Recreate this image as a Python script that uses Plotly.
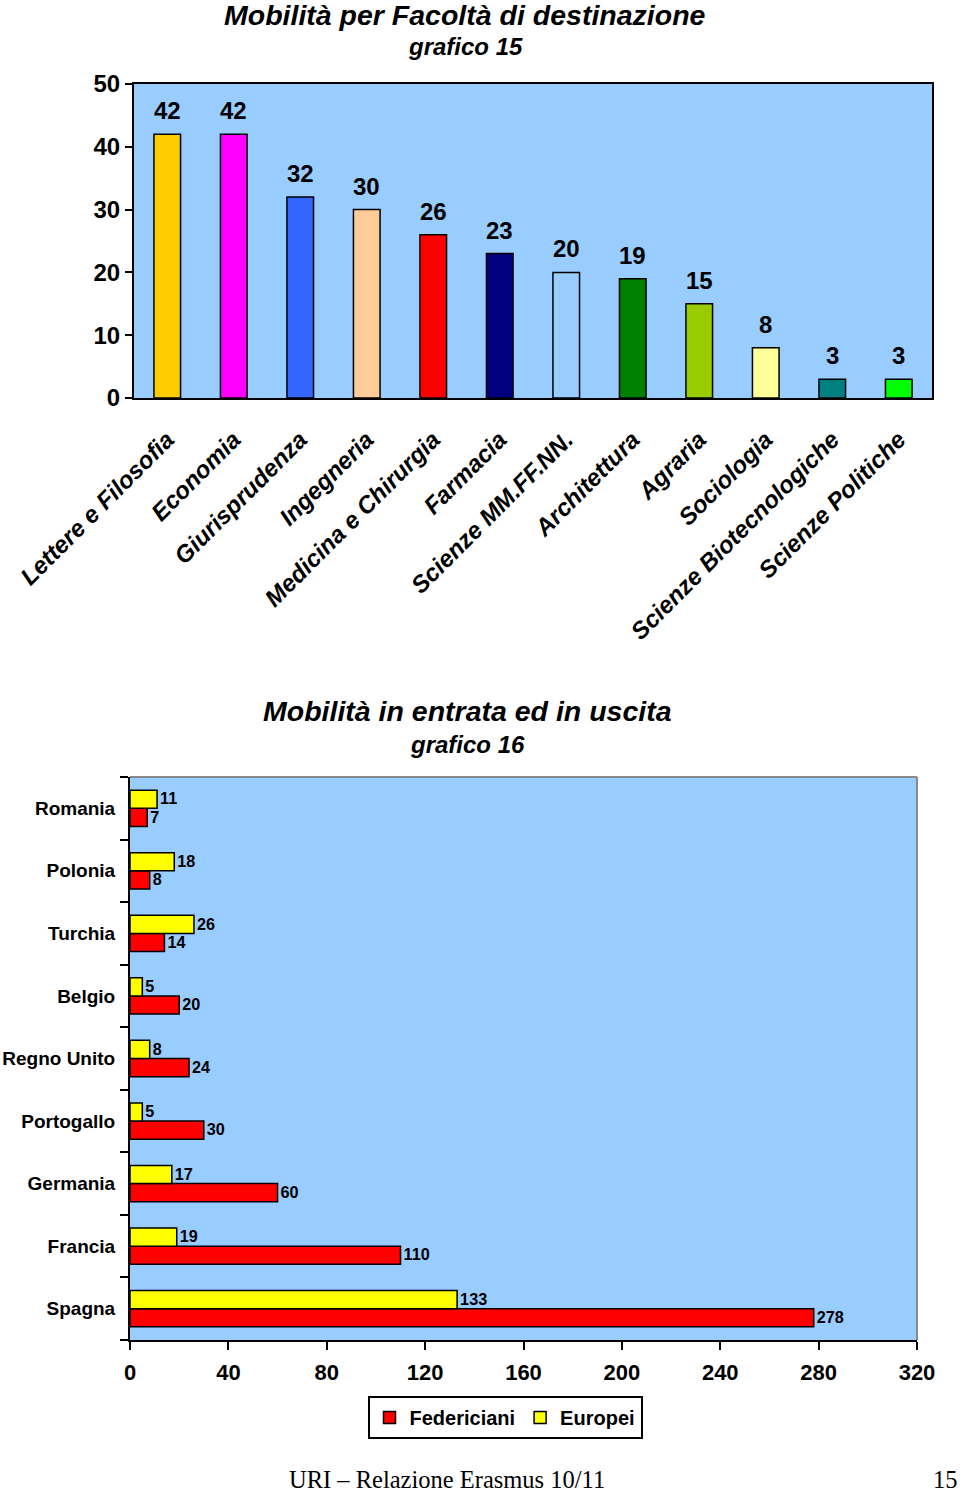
import plotly.graph_objects as go

# ---- data: grafico 15 ----
facolta = ["Lettere e Filosofia", "Economia", "Giurisprudenza", "Ingegneria",
           "Medicina e Chirurgia", "Farmacia", "Scienze MM.FF.NN.", "Architettura",
           "Agraria", "Sociologia", "Scienze Biotecnologiche", "Scienze Politiche"]
mobilita = [42, 42, 32, 30, 26, 23, 20, 19, 15, 8, 3, 3]
colori_facolta = ["#FFCC00", "#FF00FF", "#3366FF", "#FFCC99", "#FF0000", "#000080",
                  "#99CCFF", "#008000", "#99CC00", "#FFFF99", "#008080", "#00FF00"]

# ---- data: grafico 16 ----
paesi = ["Romania", "Polonia", "Turchia", "Belgio", "Regno Unito",
         "Portogallo", "Germania", "Francia", "Spagna"]
europei = [11, 18, 26, 5, 8, 5, 17, 19, 133]
federiciani = [7, 8, 14, 20, 24, 30, 60, 110, 278]

W, H = 960, 1493
FONT = "Liberation Sans, Arial, sans-serif"
SERIF = "Liberation Serif, Times New Roman, serif"
BG = "#99CCFF"

def px(x):
    return x / W

def py(y):
    return 1 - y / H

fig = go.Figure()

# top chart
fig.add_trace(go.Bar(
    x=facolta, y=mobilita, marker=dict(color=colori_facolta, line=dict(color="black", width=1.5)),
    width=0.4, xaxis="x", yaxis="y", showlegend=False, hoverinfo="x+y"))

for f, v in zip(facolta, mobilita):
    fig.add_annotation(x=f, y=v, xref="x", yref="y", text=str(v), showarrow=False,
                       yanchor="bottom", yshift=8,
                       font=dict(family=FONT, size=24, color="black", weight="bold"))

# bottom chart
fig.add_trace(go.Bar(
    y=paesi, x=federiciani, orientation="h", name="Federiciani",
    marker=dict(color="#FF0000", line=dict(color="black", width=1.5)),
    text=[str(v) for v in federiciani], textposition="outside", cliponaxis=False,
    textfont=dict(family=FONT, size=17, color="black", weight="bold"),
    xaxis="x2", yaxis="y2"))
fig.add_trace(go.Bar(
    y=paesi, x=europei, orientation="h", name="Europei",
    marker=dict(color="#FFFF00", line=dict(color="black", width=1.5)),
    text=[str(v) for v in europei], textposition="outside", cliponaxis=False,
    textfont=dict(family=FONT, size=17, color="black", weight="bold"),
    xaxis="x2", yaxis="y2"))

fig.update_layout(
    width=W, height=H, autosize=False,
    margin=dict(l=0, r=0, t=0, b=0, autoexpand=False),
    paper_bgcolor="white", plot_bgcolor=BG,
    barmode="group", bargap=0.42, bargroupgap=0,
    font=dict(family=FONT, color="black"),
    xaxis=dict(domain=[px(134), px(932)], anchor="y", showgrid=False,
               showline=True, linecolor="black", linewidth=2, mirror=True,
               ticks="", tickangle=-45, automargin=False, ticklabelstandoff=16,
               tickfont=dict(family=FONT, size=24, style="italic", weight="bold")),
    yaxis=dict(domain=[py(398), py(84)], anchor="x", range=[0, 50], dtick=10,
               showgrid=False, zeroline=False, automargin=False,
               showline=True, linecolor="black", linewidth=2, mirror=True,
               ticks="outside", ticklen=7, tickcolor="black", tickwidth=2,
               tickfont=dict(family=FONT, size=24, weight="bold")),
    xaxis2=dict(domain=[px(130), px(917)], anchor="y2", range=[0, 320], dtick=40,
                showgrid=False, zeroline=False, automargin=False,
                showline=True, linecolor="black", linewidth=2,
                ticks="outside", ticklen=8, tickcolor="black", tickwidth=2,
                ticklabelstandoff=4,
                tickfont=dict(family=FONT, size=22, weight="bold")),
    yaxis2=dict(domain=[py(1340), py(777)], anchor="x2", automargin=False,
                categoryorder="array", categoryarray=paesi[::-1],
                showgrid=False, showline=True, linecolor="black", linewidth=2,
                ticks="outside", tickson="boundaries", ticklen=8, tickcolor="black", tickwidth=2,
                ticklabelstandoff=9,
                tickfont=dict(family=FONT, size=19, weight="bold")),
    legend=dict(orientation="h", x=px(505), xanchor="center", y=py(1396), yanchor="top",
                bordercolor="black", borderwidth=2, bgcolor="white",
                font=dict(family=FONT, size=20, weight="bold"),
                itemwidth=30, traceorder="normal"),
)

# gray top/right border of bottom chart
fig.add_shape(type="line", xref="x2 domain", yref="y2 domain", x0=0, x1=1, y0=1, y1=1,
              line=dict(color="#888888", width=2))
fig.add_shape(type="line", xref="x2 domain", yref="y2 domain", x0=1, x1=1, y0=0, y1=1,
              line=dict(color="#888888", width=2))

# titles
def label(x, y, text, font):
    fig.add_annotation(x=px(x), y=py(y), xref="paper", yref="paper", showarrow=False,
                       xanchor="center", yanchor="middle", text=text, font=font)

label(465, 15, "Mobilità per Facoltà di destinazione",
      dict(family=FONT, size=28.5, style="italic", weight="bold"))
label(465, 46, "grafico 15", dict(family=FONT, size=24, style="italic", weight="bold"))
label(467, 711, "Mobilità in entrata ed in uscita",
      dict(family=FONT, size=28.5, style="italic", weight="bold"))
label(467, 744, "grafico 16", dict(family=FONT, size=24, style="italic", weight="bold"))

# footer
label(447, 1479, "URI – Relazione Erasmus 10/11", dict(family=SERIF, size=24.5))
label(945, 1479, "15", dict(family=SERIF, size=24.5))

fig.write_html("out.html", config={"displayModeBar": False},
               post_script="document.body.style.margin='0';")
